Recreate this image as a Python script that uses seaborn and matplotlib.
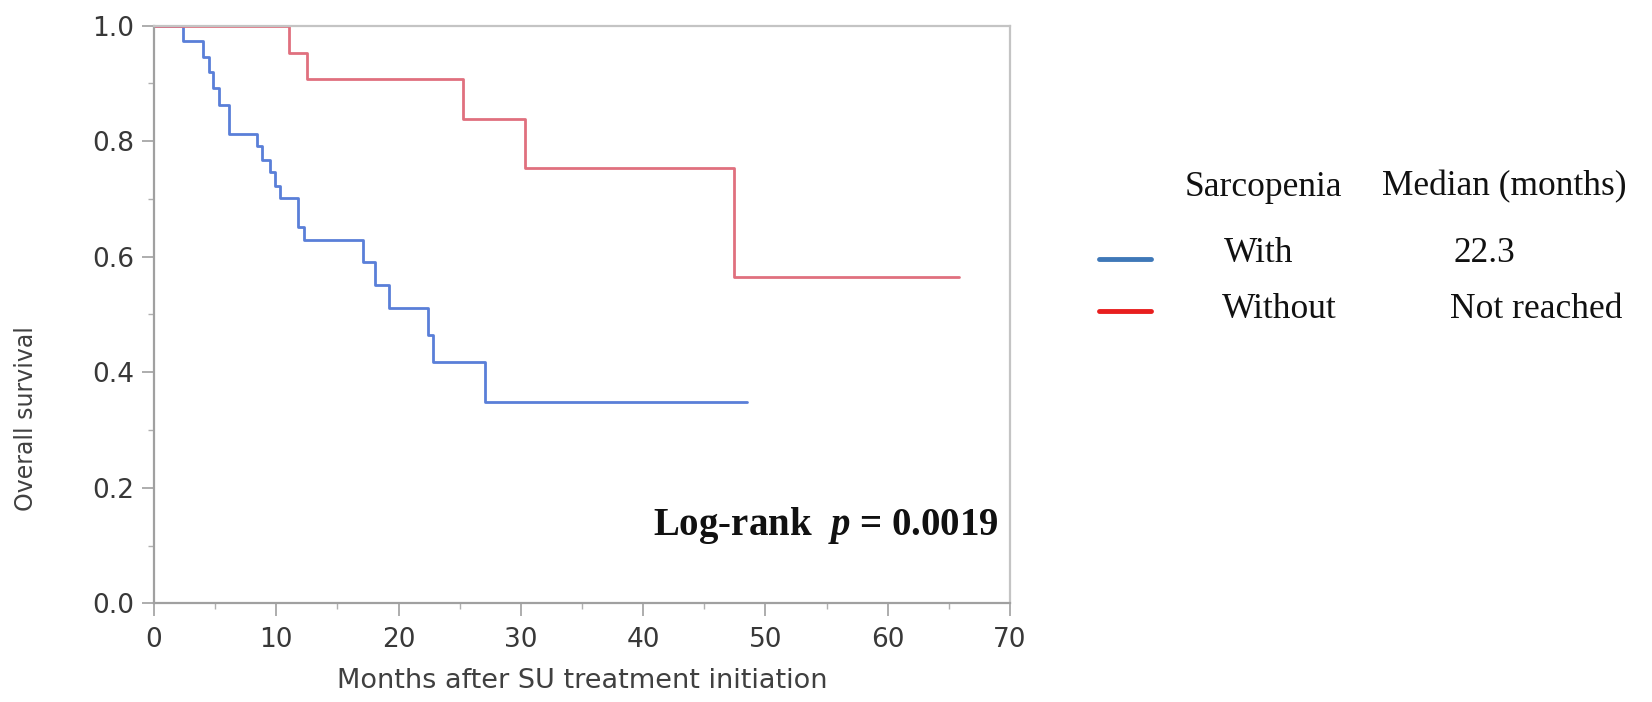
import numpy as np
import pandas as pd
import matplotlib
matplotlib.use("Agg")
import matplotlib.pyplot as plt
from matplotlib.lines import Line2D
from matplotlib.ticker import MultipleLocator
import seaborn as sns

# Kaplan-Meier steps (months, survival)
with_t = [0, 2.4, 4.0, 4.5, 4.8, 5.3, 6.1, 8.4, 8.8, 9.5, 9.9, 10.3, 11.8, 12.3,
          17.1, 18.1, 19.2, 22.4, 22.8, 27.1, 48.5]
with_s = [1.0, 0.973, 0.946, 0.919, 0.892, 0.862, 0.813, 0.791, 0.768, 0.746, 0.723,
          0.701, 0.652, 0.629, 0.591, 0.551, 0.511, 0.464, 0.417, 0.348, 0.348]
without_t = [0, 11.0, 12.5, 25.3, 30.3, 47.4, 65.8]
without_s = [1.0, 0.953, 0.908, 0.838, 0.754, 0.565, 0.565]

groups = ["With", "Without"]
medians = ["22.3", "Not reached"]
curve_colors = {"With": "#5a7fd8", "Without": "#e0707e"}
legend_colors = ["#3f78b8", "#e81e1e"]

df = pd.concat([
    pd.DataFrame({"t": with_t, "S": with_s, "group": "With"}),
    pd.DataFrame({"t": without_t, "S": without_s, "group": "Without"}),
], ignore_index=True)

sns.set_style("white")
plt.rcParams["font.family"] = ["DejaVu Sans"]
plt.rcParams["mathtext.fontset"] = "custom"
plt.rcParams["mathtext.it"] = "Liberation Serif:italic:bold"
plt.rcParams["mathtext.rm"] = "Liberation Serif:bold"

W, H = 1652, 702
fig = plt.figure(figsize=(W / 100, H / 100), dpi=100)
x0, x1, ytop, ybot = 154, 1010, 25.7, 603.3
ax = fig.add_axes([x0 / W, 1 - ybot / H, (x1 - x0) / W, (ybot - ytop) / H])

sns.lineplot(data=df, x="t", y="S", hue="group", palette=curve_colors,
             drawstyle="steps-post", estimator=None, sort=False,
             linewidth=2.0, legend=False, ax=ax)

ax.set_xlim(0, 70)
ax.set_ylim(0, 1.0)
ax.xaxis.set_major_locator(MultipleLocator(10))
ax.xaxis.set_minor_locator(MultipleLocator(5))
ax.yaxis.set_major_locator(MultipleLocator(0.2))
ax.yaxis.set_minor_locator(MultipleLocator(0.1))
ax.yaxis.set_major_formatter(plt.FormatStrFormatter("%.1f"))

for side in ["left", "bottom"]:
    ax.spines[side].set_color("#a0a0a0")
    ax.spines[side].set_linewidth(1.6)
for side in ["top", "right"]:
    ax.spines[side].set_color("#c4c4c4")
    ax.spines[side].set_linewidth(1.6)

ax.tick_params(which="major", direction="out", length=9, width=1.2, color="#a0a0a0",
               labelsize=19, labelcolor="#383838", bottom=True, left=True)
ax.tick_params(axis="x", which="major", pad=8)
ax.tick_params(axis="y", which="major", pad=5)
ax.tick_params(which="minor", direction="out", length=4, width=1.0, color="#b0b0b0",
               bottom=True, left=True)

ax.set_xlabel("Months after SU treatment initiation", fontsize=19.5, color="#404040")
ax.set_ylabel("Overall survival", fontsize=17, color="#404040")
ax.xaxis.set_label_coords(0.5, -0.112)
ax.yaxis.set_label_coords(-0.135, 0.32)

ax.text(69.1, 0.118, "Log-rank  $p$ = 0.0019", ha="right", va="baseline",
        fontsize=28, fontweight="bold", family="Liberation Serif", color="#111111")

# legend table on the right
def fx(px):
    return px / W

def fy(py):
    return 1 - py / H

serif = dict(family="Liberation Serif", fontsize=25.5, color="#111111", va="center", ha="center")
fig.text(fx(1263), fy(187), "Sarcopenia", **serif)
fig.text(fx(1504), fy(187), "Median (months)", **serif)
rows = [("With", "22.3", 1259, 1484, 253, 6), ("Without", "Not reached", 1279, 1536, 310, 1)]
for (g, m, gx, mx, ry, off), c in zip(rows, legend_colors):
    fig.add_artist(Line2D([fx(1099), fx(1151)], [fy(ry + off), fy(ry + off)],
                          color=c, linewidth=3.5, transform=fig.transFigure))
    fig.text(fx(gx), fy(ry), g, **serif)
    fig.text(fx(mx), fy(ry), m, **serif)

fig.savefig("out.png", dpi=100)
